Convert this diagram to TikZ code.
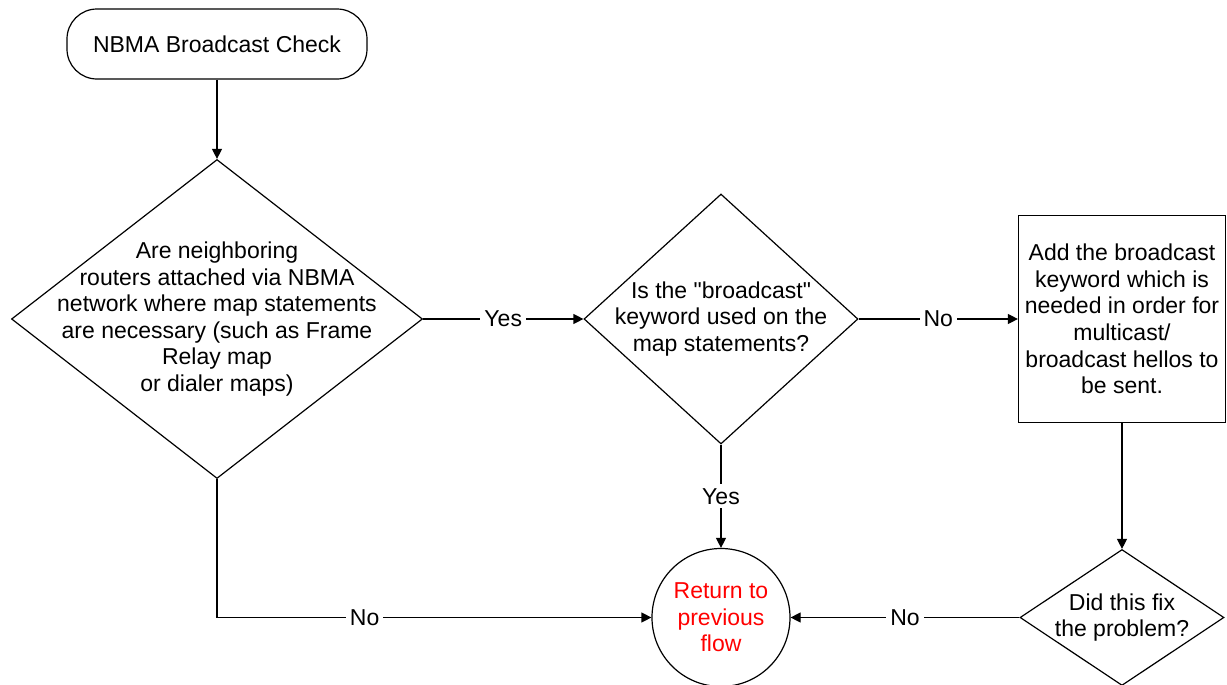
\documentclass[tikz,border=0pt]{standalone}
\usepackage{fontspec}
\setmainfont{Liberation Sans}
\usepackage{tikz}
\usetikzlibrary{
        arrows.meta,
        positioning,
        shapes.geometric
    }
\tikzset{>={Triangle[length=5pt,width=5pt]},node distance=2cm}
\tikzset{
    every node/.style={font=\fontsize{11.5pt}{13.3pt}\selectfont,align=center},
    term/.style={draw,rectangle,rounded corners=15pt,minimum width=150pt,minimum height=35pt,inner sep=0pt},
    decision/.style={draw,diamond,inner sep=0pt},
    block/.style={draw,rectangle,minimum width=103.5pt,minimum height=103.5pt,inner sep=0pt},
    finish/.style={draw,circle,minimum size=69pt,inner sep=0pt,text=red},
    lbl/.style={fill=white,inner sep=2pt}
}

\begin{document}
\begin{tikzpicture}[line width=0.6pt]
                    \useasboundingbox (-108.5pt,22pt) rectangle (505pt,-320.5pt);
                    \node[term] (start) at (0,0) {NBMA Broadcast Check};
                    \node[decision,minimum width=205.5pt,minimum height=159.5pt,
                        label={center:{Are neighboring\\routers attached via NBMA\\network where map statements\\are necessary (such as Frame\\Relay map\\or dialer maps)}}]
                        (nbma) [below of=start,node distance=137.5pt] {};
                    \node[decision,minimum width=137pt,minimum height=125pt,
                        label={center:{Is the \textquotedbl broadcast\textquotedbl\\keyword used on the\\map statements?}}]
                        (bcast) [right of=nbma,node distance=252pt] {};
                    \node[block] (fix) [right of=bcast,node distance=200.5pt]
                        {Add the broadcast\\keyword which is\\needed in order for\\multicast/\\broadcast hellos to\\be sent.};
                    \node[decision,minimum width=102pt,minimum height=68pt,
                        label={center:{Did this fix\\the problem?}}]
                        (fixed) [below of=fix,node distance=149.25pt] {};
                    \node[finish] (ret) [below of=bcast,node distance=149.25pt] {Return to\\previous\\flow};
                    \path[->]
                        (start)  edge  (nbma)
                        (nbma)  edge  node[lbl] {Yes} (bcast)
                        (bcast)  edge  node[lbl] {No} (fix)
                        (bcast)  edge  node[lbl] {Yes} (ret)
                        (fix)  edge  (fixed)
                        (fixed)  edge  node[lbl] {No} (ret)
                    ;
                    \draw[->] (nbma) |- node[lbl,pos=0.67] {No} (ret);
                \end{tikzpicture}
\end{document}
